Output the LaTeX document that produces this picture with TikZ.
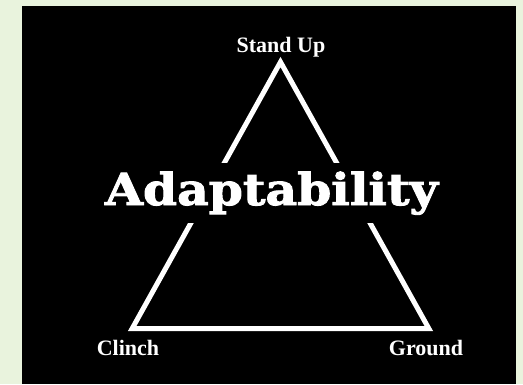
\documentclass[tikz,border=0pt]{standalone}
\usepackage{fontspec}
\setmainfont{Liberation Serif}
\newfontfamily\adfont[FakeBold=2]{DejaVu Serif Bold}
\definecolor{bggreen}{HTML}{E9F3DD}
\begin{document}
\begin{tikzpicture}[x=1pt,y=-1pt,
  lbl/.style={text=white,font=\fontsize{22}{22}\selectfont\bfseries,anchor=base,inner sep=0pt},
  tri/.style={draw=white,line width=5pt,line join=miter},
  title/.style={fill=black,text=white,anchor=base,inner xsep=4pt,inner ysep=10pt,text height=32pt,text depth=8pt,font=\adfont\fontsize{44}{44}\selectfont}]
\useasboundingbox (0,0) rectangle (523,384);
\fill[bggreen] (0,0) rectangle (523,384);
\fill[black] (22,6) rectangle (516,384);
\coordinate (top) at (280.5,62);
\coordinate (bl) at (132.2,328.5);
\coordinate (br) at (428.8,328.5);
\draw[tri] (top) -- (bl) -- (br) -- cycle;
\node[title] (ad) at (271.5,205) {\scalebox{1.11}[1]{Adaptability}};
\node[lbl] (su) at (281,52) {Stand Up};
\node[lbl] (cl) at (128,355) {Clinch};
\node[lbl] (gr) at (426,355) {Ground};
\end{tikzpicture}
\end{document}
